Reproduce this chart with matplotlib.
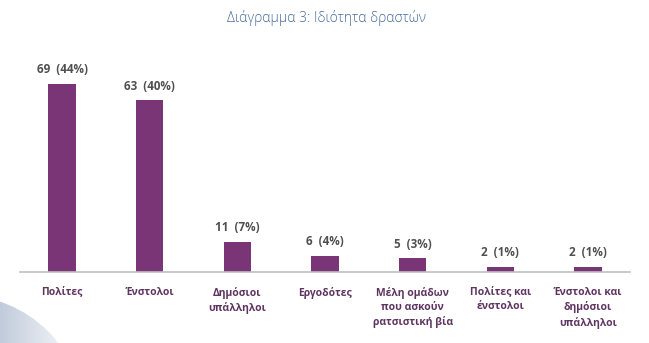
import numpy as np
import matplotlib.pyplot as plt
from matplotlib.colors import LinearSegmentedColormap
from matplotlib.patches import Circle

categories = ["Πολίτες", "Ένστολοι", "Δημόσιοι\nυπάλληλοι", "Εργοδότες",
              "Μέλη ομάδων\nπου ασκούν\nρατσιστική βία", "Πολίτες και\nένστολοι",
              "Ένστολοι και\nδημόσιοι\nυπάλληλοι"]
counts = [69, 63, 11, 6, 5, 2, 2]
percents = [44, 40, 7, 4, 3, 1, 1]

bar_color = "#7a3577"
label_color = "#505050"
cat_color = "#5e3560"

fig = plt.figure(figsize=(6.49, 3.43), dpi=100)

# background decoration: faded circle at lower left
bg = fig.add_axes([0, 0, 1, 1])
bg.set_xlim(0, 649)
bg.set_ylim(343, 0)
bg.set_axis_off()
grad = np.tile(np.linspace(0, 1, 200), (200, 1))
fade = LinearSegmentedColormap.from_list("fade", ["#6a82a6", "#a4b4cb", "#ffffff"])
img = bg.imshow(grad, extent=[-160, 85, 300, 560], cmap=fade, aspect="auto", zorder=0)
circ = Circle((-40, 420), 125, transform=bg.transData, facecolor="none", edgecolor="none")
bg.add_patch(circ)
img.set_clip_path(circ)

ax = fig.add_axes([20 / 649, 71 / 343, 610 / 649, 222 / 343])
ax.patch.set_alpha(0)
x = np.arange(len(categories))
ax.bar(x, counts, width=0.31, color=bar_color, zorder=2)
ax.set_xlim(-0.48, len(categories) - 0.52)
ax.set_ylim(0, 81.5)

for xi, c, p in zip(x, counts, percents):
    ax.annotate(f"{c}  ({p}%)", (xi, c), xytext=(0, 5.5), textcoords="offset points",
                ha="center", va="bottom", fontsize=8.4, fontweight="bold",
                color=label_color, family="Open Sans")

ax.set_xticks(x)
ax.set_xticklabels(categories, fontsize=7.5, fontweight="bold", color=cat_color,
                   family="Open Sans", linespacing=1.4, va="top")
ax.tick_params(axis="x", length=0, pad=10.5)
ax.set_yticks([])
for s in ["top", "right", "left"]:
    ax.spines[s].set_visible(False)
ax.spines["bottom"].set_color("#c0c0c0")
ax.spines["bottom"].set_linewidth(1.2)

fig.text(326 / 649, 1 - 18 / 343, "Διάγραμμα 3: Ιδιότητα δραστών", ha="center", va="center",
         fontsize=10, color="#4a6d9c", family="Open Sans", fontweight="light")

fig.savefig("out.png", dpi=100)
